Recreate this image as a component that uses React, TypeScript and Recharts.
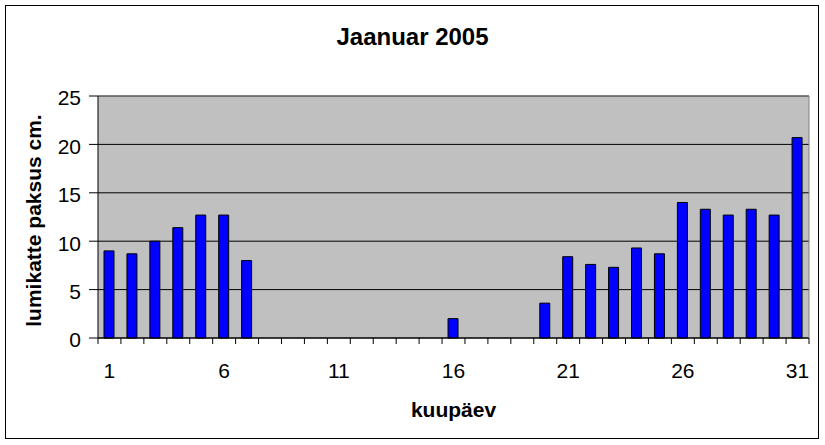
import { Bar, BarChart, CartesianGrid, ReferenceLine, XAxis, YAxis } from "recharts";

// January 2005, snow cover depth per day (cm)
const days = [
  1, 2, 3, 4, 5, 6, 7, 8, 9, 10, 11, 12, 13, 14, 15, 16, 17, 18, 19, 20, 21,
  22, 23, 24, 25, 26, 27, 28, 29, 30, 31,
];
const snowDepth = [
  9.0, 8.7, 10.0, 11.4, 12.7, 12.7, 8.0, 0, 0, 0, 0, 0, 0, 0, 0, 2.0, 0, 0, 0,
  3.6, 8.4, 7.6, 7.3, 9.3, 8.7, 14.0, 13.3, 12.7, 13.3, 12.7, 20.7,
];
const yTicks = [0, 5, 10, 15, 20, 25];
const labelEvery = 5;

const data = days.map((day, i) => ({ day, depth: snowDepth[i] }));

const font = '"Liberation Sans", Arial, sans-serif';

// Excel style: tick marks between categories, label on every 5th day
function DayTick(props: any) {
  const { x, y, payload, index } = props;
  const half = payload.offset ?? 0;
  return (
    <g>
      {index === 0 && (
        <line x1={x - half} x2={x - half} y1={y} y2={y + 6} stroke="#000" />
      )}
      <line x1={x + half} x2={x + half} y1={y} y2={y + 6} stroke="#000" />
      {index % labelEvery === 0 && (
        <text
          x={x}
          y={y + 40}
          textAnchor="middle"
          fontSize={21}
          fill="#000"
          fontFamily={font}
        >
          {payload.value}
        </text>
      )}
    </g>
  );
}

export default function App() {
  return (
    <div
      style={{
        position: "relative",
        width: 825,
        height: 445,
        background: "#fff",
        fontFamily: font,
      }}
    >
      <style>{"body{margin:0}"}</style>
      <div
        style={{
          position: "absolute",
          left: 5,
          top: 5,
          width: 814,
          height: 434,
          boxSizing: "border-box",
          border: "1px solid #000",
        }}
      />
      <div
        style={{
          position: "absolute",
          left: 0,
          top: 25,
          width: 825,
          textAlign: "center",
          fontSize: 24,
          lineHeight: "24px",
          fontWeight: "bold",
        }}
      >
        Jaanuar 2005
      </div>
      <div
        style={{
          position: "absolute",
          left: 33 - 150,
          top: 220.5 - 10.5,
          width: 300,
          height: 21,
          textAlign: "center",
          fontSize: 21,
          lineHeight: "21px",
          fontWeight: "bold",
          transform: "rotate(-90deg)",
          whiteSpace: "nowrap",
        }}
      >
        lumikatte paksus cm.
      </div>
      <div
        style={{
          position: "absolute",
          left: 98,
          top: 399,
          width: 711,
          textAlign: "center",
          fontSize: 21,
          lineHeight: "21px",
          fontWeight: "bold",
        }}
      >
        kuupäev
      </div>
      <div style={{ position: "absolute", left: 0, top: 0 }}>
        <BarChart
          width={825}
          height={445}
          data={data}
          margin={{ top: 96, right: 0, bottom: 0, left: 0 }}
        >
          <CartesianGrid
            vertical={false}
            stroke="#000"
            fill="#C0C0C0"
            fillOpacity={1}
          />
          <XAxis
            dataKey="day"
            height={107}
            interval={0}
            tickSize={0}
            tickMargin={0}
            axisLine={{ stroke: "#000" }}
            tick={<DayTick />}
          />
          <YAxis
            domain={[0, 25]}
            ticks={yTicks}
            width={98}
            tickSize={9}
            tickMargin={8}
            axisLine={{ stroke: "#000" }}
            tickLine={{ stroke: "#000" }}
            tick={{ fontSize: 21, fill: "#000", dy: 2 }}
          />
          <YAxis
            yAxisId="frame"
            orientation="right"
            width={16}
            tick={false}
            tickLine={false}
            axisLine={{ stroke: "#808080" }}
          />
          <ReferenceLine y={25} stroke="#808080" />
          <Bar
            dataKey="depth"
            fill="#0000FF"
            stroke="#000"
            strokeWidth={1}
            barSize={10}
            isAnimationActive={false}
          />
        </BarChart>
      </div>
    </div>
  );
}
